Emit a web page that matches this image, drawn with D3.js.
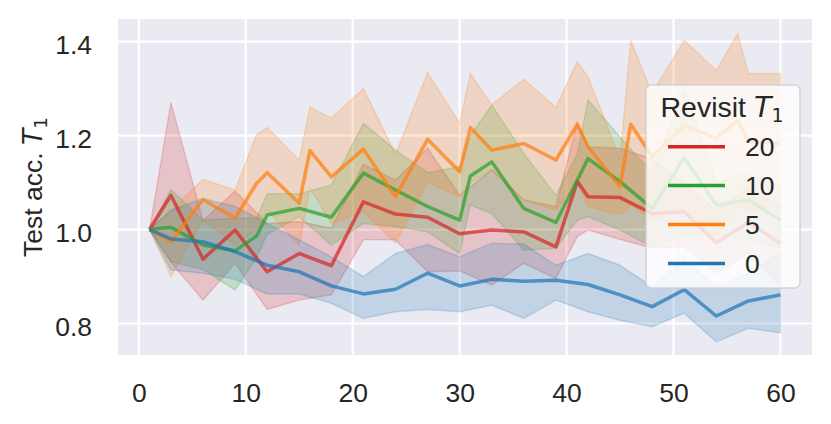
<!DOCTYPE html>
<html>
<head>
<meta charset="utf-8">
<script src="https://cdn.jsdelivr.net/npm/d3@7"></script>
<style>
  body { margin: 0; background: #fff; }
  text { font-family: "Liberation Sans", Arial, sans-serif; fill: #262626; }
</style>
</head>
<body>
<div id="okvir"></div>
<script>
// podaci (procitano sa slike): epoha, srednja vrijednost, donja i gornja granica pojasa
const x20 = [1,3,6,9,12,15,18,21,24,27,30,33,36,39,41,42,45,48,51,54,57,60]
const mean20 = [1.0,1.073,0.937,0.999,0.910,0.949,0.923,1.059,1.033,1.026,0.991,0.999,0.995,0.963,1.102,1.070,1.068,1.034,1.038,0.972,1.015,0.971]
const lo20 = [1.0,0.93,0.85,0.928,0.830,0.85,0.861,0.978,0.978,0.910,0.912,0.882,0.928,0.896,0.985,0.999,0.979,0.96,0.963,0.907,0.95,0.878]
const hi20 = [1.0,1.27,1.019,1.082,1.013,1.017,1.003,1.139,1.105,1.173,1.073,1.127,1.063,1.049,1.227,1.176,1.173,1.15,1.10,1.04,1.09,1.05]

const x10 = [1,3,6,9,11,12,15,18,21,24,27,30,31,33,36,39,41,42,45,48,51,54,57,60]
const mean10 = [1.0,1.005,0.967,0.955,0.986,1.031,1.045,1.026,1.120,1.084,1.049,1.020,1.114,1.144,1.045,1.015,1.105,1.151,1.102,1.045,1.153,1.052,1.063,1.020]
const lo10 = [1.0,0.932,0.915,0.871,0.94,0.99,1.027,0.967,1.013,1.006,0.995,0.949,1.052,1.034,0.956,0.96,1.02,1.027,0.999,0.963,0.99,0.99,0.98,0.96]
const hi10 = [1.0,1.085,1.02,1.024,1.024,1.076,1.076,1.095,1.226,1.169,1.121,1.134,1.20,1.265,1.162,1.073,1.16,1.276,1.197,1.12,1.303,1.10,1.12,1.09]

const x5 = [1,3,6,9,11,12,15,16,18,21,24,27,30,31,33,36,39,41,42,45,46,48,51,54,56,57,60]
const mean5 = [1.0,0.974,1.064,1.024,1.098,1.121,1.056,1.168,1.112,1.171,1.070,1.192,1.123,1.217,1.169,1.183,1.148,1.224,1.176,1.091,1.224,1.155,1.222,1.194,1.233,1.187,1.183]
const lo5 = [1.0,0.90,1.02,0.967,1.0,1.041,0.967,1.088,1.013,1.038,0.972,1.10,1.07,1.099,1.127,1.063,1.041,1.10,1.049,1.031,1.052,1.02,1.04,0.98,1.05,1.04,1.05]
const hi5 = [1.0,1.04,1.107,1.084,1.201,1.217,1.148,1.261,1.237,1.30,1.16,1.334,1.226,1.332,1.265,1.32,1.26,1.357,1.325,1.151,1.402,1.29,1.403,1.338,1.417,1.332,1.332]

const x0 = [1,3,6,9,12,15,18,21,24,27,30,33,36,39,42,45,48,51,54,57,60]
const mean0 = [1.0,0.98,0.974,0.953,0.924,0.910,0.880,0.863,0.873,0.907,0.880,0.894,0.890,0.892,0.883,0.861,0.836,0.872,0.816,0.848,0.861]
const lo0 = [1.0,0.914,0.907,0.894,0.863,0.863,0.843,0.811,0.825,0.830,0.825,0.839,0.811,0.850,0.825,0.807,0.793,0.822,0.761,0.790,0.780]
const hi0 = [1.0,1.041,1.066,1.049,1.013,0.978,0.942,0.900,0.949,0.968,0.942,0.971,0.969,0.924,0.949,0.924,0.878,0.935,0.878,0.907,0.950]

const oznake = ["20","10","5","0"]
const boje = ["#d62728","#2ca02c","#ff7f0e","#1f77b4"]
const xTicks = [0,10,20,30,40,50,60]
const yTicks = [0.8,1.0,1.2,1.4]

const serije = [
    {x: x20, m: mean20, lo: lo20, hi: hi20},
    {x: x10, m: mean10, lo: lo10, hi: hi10},
    {x: x5, m: mean5, lo: lo5, hi: hi5},
    {x: x0, m: mean0, lo: lo0, hi: hi0},
].map((s, i) => ({
    oznaka: oznake[i],
    boja: boje[i],
    tocke: s.x.map((x, j) => ({x: x, m: s.m[j], lo: s.lo[j], hi: s.hi[j]}))
}))

// dimenzije
const dimenzije = {
    sirina: 831,
    visina: 424,
    margine: {top: 19, right: 19, bottom: 69, left: 118},
}
dimenzije.grSirina = dimenzije.sirina - dimenzije.margine.left - dimenzije.margine.right
dimenzije.grVisina = dimenzije.visina - dimenzije.margine.top - dimenzije.margine.bottom

const okvir = d3.select("#okvir")
    .append("svg")
    .attr("width", dimenzije.sirina)
    .attr("height", dimenzije.visina)

const granice = okvir.append("g")
    .attr("transform", `translate(${dimenzije.margine.left},${dimenzije.margine.top})`)

// skale
const xSkala = d3.scaleLinear()
    .domain([-1.95, 62.95])
    .range([0, dimenzije.grSirina])

const ySkala = d3.scaleLinear()
    .domain([0.733, 1.448])
    .range([dimenzije.grVisina, 0])

// pozadina i mreza
granice.append("rect")
    .attr("width", dimenzije.grSirina)
    .attr("height", dimenzije.grVisina)
    .attr("fill", "#eaeaf2")

granice.append("g").selectAll("line")
    .data(xTicks)
    .join("line")
    .attr("x1", d => xSkala(d)).attr("x2", d => xSkala(d))
    .attr("y1", 0).attr("y2", dimenzije.grVisina)
    .attr("stroke", "#fff").attr("stroke-width", 2.2)

granice.append("g").selectAll("line")
    .data(yTicks)
    .join("line")
    .attr("y1", d => ySkala(d)).attr("y2", d => ySkala(d))
    .attr("x1", 0).attr("x2", dimenzije.grSirina)
    .attr("stroke", "#fff").attr("stroke-width", 2.2)

// pojasevi pouzdanosti (ispod svih linija)
const pojas = d3.area()
    .x(d => xSkala(d.x))
    .y0(d => ySkala(d.lo))
    .y1(d => ySkala(d.hi))

granice.append("g").selectAll("path")
    .data(serije)
    .join("path")
    .attr("d", s => pojas(s.tocke))
    .attr("fill", s => s.boja)
    .attr("fill-opacity", 0.2)
    .attr("stroke", s => s.boja)
    .attr("stroke-opacity", 0.2)
    .attr("stroke-width", 1.5)

// linije
const linija = d3.line()
    .x(d => xSkala(d.x))
    .y(d => ySkala(d.m))

granice.append("g").selectAll("path")
    .data(serije)
    .join("path")
    .attr("d", s => linija(s.tocke))
    .attr("fill", "none")
    .attr("stroke", s => s.boja)
    .attr("stroke-opacity", 0.72)
    .attr("stroke-width", 3.5)
    .attr("stroke-linejoin", "round")

// osi
const xOs = granice.append("g")
    .attr("transform", `translate(0,${dimenzije.grVisina})`)
    .call(d3.axisBottom(xSkala).tickValues(xTicks).tickSize(0).tickPadding(28).tickFormat(d3.format("d")))
xOs.select(".domain").remove()
xOs.selectAll("text").attr("font-size", 26.5).attr("font-family", null).style("fill", "#262626")

const yOs = granice.append("g")
    .call(d3.axisLeft(ySkala).tickValues(yTicks).tickSize(0).tickPadding(26).tickFormat(d3.format(".1f")))
yOs.select(".domain").remove()
yOs.selectAll("text").attr("font-size", 26.5).attr("font-family", null).attr("dy", "0.44em").style("fill", "#262626")

// oznaka y osi
const yOznaka = okvir.append("text")
    .attr("transform", `translate(42,${dimenzije.margine.top + dimenzije.grVisina / 2}) rotate(-90)`)
    .attr("text-anchor", "middle")
    .attr("font-size", 26.5)
yOznaka.append("tspan").text("Test acc. ")
yOznaka.append("tspan").attr("font-style", "italic").attr("font-family", "DejaVu Sans").text("T")
yOznaka.append("tspan").attr("font-size", 18.5).attr("dy", 5).attr("font-family", "DejaVu Sans").text("1")

// legenda
const legenda = okvir.append("g")
    .attr("transform", "translate(646,85)")

legenda.append("rect")
    .attr("width", 154)
    .attr("height", 203)
    .attr("rx", 5)
    .attr("fill", "#fff")
    .attr("fill-opacity", 0.8)
    .attr("stroke", "#cccccc")
    .attr("stroke-opacity", 0.8)
    .attr("stroke-width", 1.5)

const naslov = legenda.append("text")
    .attr("x", 76)
    .attr("y", 32)
    .attr("text-anchor", "middle")
    .attr("font-size", 28.5)
naslov.append("tspan").text("Revisit ")
naslov.append("tspan").attr("font-style", "italic").attr("font-family", "DejaVu Sans").text("T")
naslov.append("tspan").attr("font-size", 19).attr("dy", 5).attr("font-family", "DejaVu Sans").text("1")

const stavke = legenda.selectAll(".stavka")
    .data(serije)
    .join("g")
    .attr("class", "stavka")
    .attr("transform", (s, i) => `translate(0,${61.7 + i * 38.9})`)

stavke.append("line")
    .attr("x1", 22).attr("x2", 79)
    .attr("stroke", s => s.boja)
    .attr("stroke-width", 3.5)

stavke.append("text")
    .attr("x", 99)
    .attr("dy", "0.36em")
    .attr("font-size", 26.5)
    .text(s => s.oznaka)
</script>
</body>
</html>
